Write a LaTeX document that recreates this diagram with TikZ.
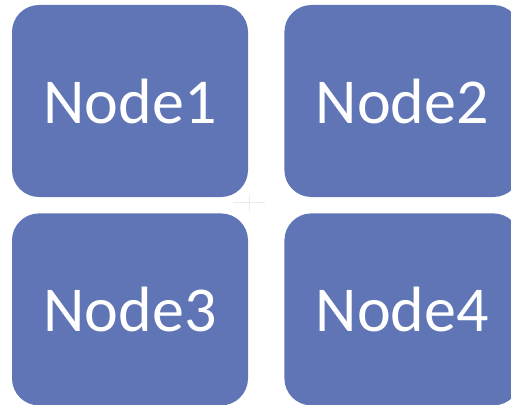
\documentclass[tikz,border=0pt]{standalone}
\usepackage{fontspec}
\setmainfont{Carlito}
\usetikzlibrary{positioning}
\definecolor{boxblue}{RGB}{96,117,181}
\def\boxw{236pt}
\def\boxh{192pt}
\def\gapx{36pt}
\def\gapy{16pt}

\begin{document}
\begin{tikzpicture}[x=1pt, y=1pt,
    box/.style={rectangle, rounded corners=27pt, fill=boxblue, text=white,
        minimum width=\boxw, minimum height=\boxh, inner sep=0pt,
        font=\fontsize{64}{76}\selectfont}]
    % Page frame, clipping the boxes cut by the right and bottom edges.
    \useasboundingbox (0,0) rectangle (511,-404);
    \clip (0,0) rectangle (511,-404);

    % Faint centre mark between the four boxes.
    \draw[black!8, line width=0.6pt] (233,-202) -- (265,-202);
    \draw[black!8, line width=0.6pt] (249,-195) -- (249,-211);

    % Boxes, top row then bottom row.
    \node[box] (node1) at (130,-101) {Node1};
    \node[box, right=\gapx of node1] (node2) {Node2};
    \node[box, below=\gapy of node1] (node3) {Node3};
    \node[box, right=\gapx of node3] (node4) {Node4};
\end{tikzpicture}
\end{document}
